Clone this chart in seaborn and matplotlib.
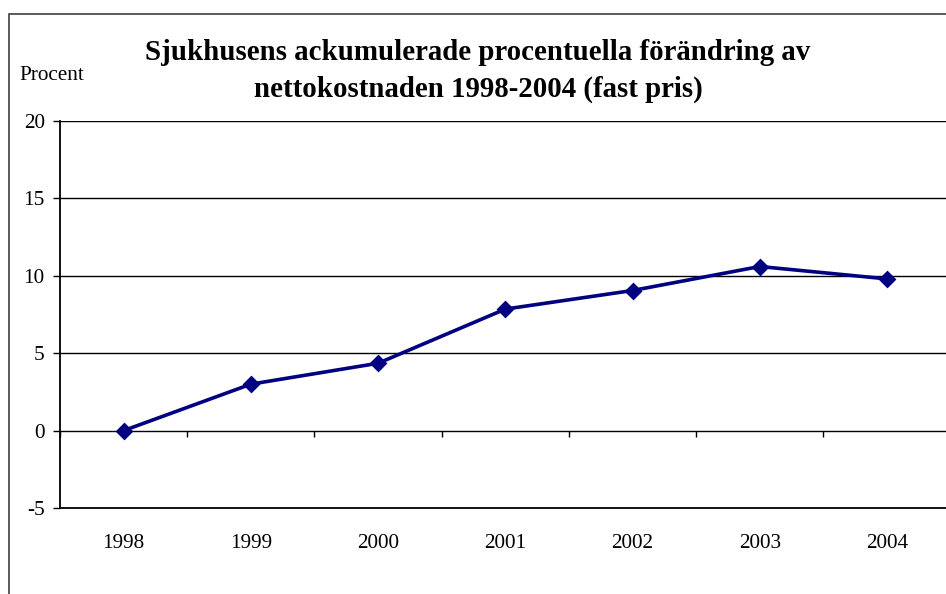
import matplotlib
matplotlib.use("Agg")
import matplotlib.pyplot as plt
import seaborn as sns
import pandas as pd
from matplotlib.patches import Rectangle

# Data
years = ["1998", "1999", "2000", "2001", "2002", "2003", "2004"]
change = [0.0, 3.0, 4.35, 7.85, 9.05, 10.6, 9.8]
y_ticks = [-5, 0, 5, 10, 15, 20]

title = "Sjukhusens ackumulerade procentuella förändring av\nnettokostnaden 1998-2004 (fast pris)"

def main():
    sns.set_theme(style="white")
    plt.rcParams["font.family"] = ["Liberation Serif", "DejaVu Serif"]
    plt.rcParams["text.color"] = "black"
    plt.rcParams["xtick.color"] = "black"
    plt.rcParams["ytick.color"] = "black"
    plt.rcParams["xtick.labelcolor"] = "black"
    plt.rcParams["ytick.labelcolor"] = "black"

    df = pd.DataFrame({"year": years, "change": change})

    fig = plt.figure(figsize=(9.46, 5.94), dpi=100)
    fig.patch.set_facecolor("white")
    W, H = 946, 594
    # plot area: left 60px, bottom spine 508px, top 121px, right beyond the image
    ax = fig.add_axes([60 / W, (H - 508) / H, (950.6 - 60) / W, (508 - 121) / H])

    sns.pointplot(data=df, x="year", y="change", ax=ax, color="#000080",
                  markers="D", linestyles="-", markersize=7.5, linewidth=2.6,
                  errorbar=None)

    ax.set_ylim(-5, 20)
    ax.set_xlim(-0.5, 6.5)
    ax.set_yticks(y_ticks)
    ax.set_yticklabels([str(t) for t in y_ticks])
    ax.set_xlabel("")
    ax.set_ylabel("")

    for t in [5, 10, 15, 20]:
        ax.axhline(t, color="black", lw=1.0, zorder=0)

    for side in ["top", "right"]:
        ax.spines[side].set_visible(False)
    ax.spines["left"].set_color("black")
    ax.spines["left"].set_linewidth(1.3)
    ax.spines["bottom"].set_color("black")
    ax.spines["bottom"].set_linewidth(1.3)

    ax.tick_params(axis="y", which="major", direction="out", length=5, width=1,
                   color="black", pad=6, labelsize=15.3, left=True)
    ax.tick_params(axis="x", which="major", length=0, pad=19, labelsize=15.3)

    # zero line with tick marks at the category boundaries
    sec = ax.secondary_xaxis(0.2)
    sec.set_xticks([i - 0.5 for i in range(len(years) + 1)])
    sec.set_xticklabels([])
    sec.tick_params(direction="out", length=4.5, width=1, color="black")
    sec.spines["bottom"].set_color("black")
    sec.spines["bottom"].set_linewidth(1.0)

    fig.text(478 / W, 1 - 71 / H, title, ha="center", va="center",
             fontsize=20.8, fontweight="bold", linespacing=1.45)
    fig.text(52 / W, 1 - 75 / H, "Procent", ha="center", va="center", fontsize=15.3)

    # outer chart frame
    fig.patches.append(Rectangle((8.5 / W, -0.1), 1.2, 1 - 14 / H + 0.1,
                                 transform=fig.transFigure, fill=False,
                                 edgecolor="#404040", lw=1.2))

    fig.savefig("out.png", dpi=100, facecolor="white")
    plt.close(fig)

if __name__ == "__main__":
    main()
